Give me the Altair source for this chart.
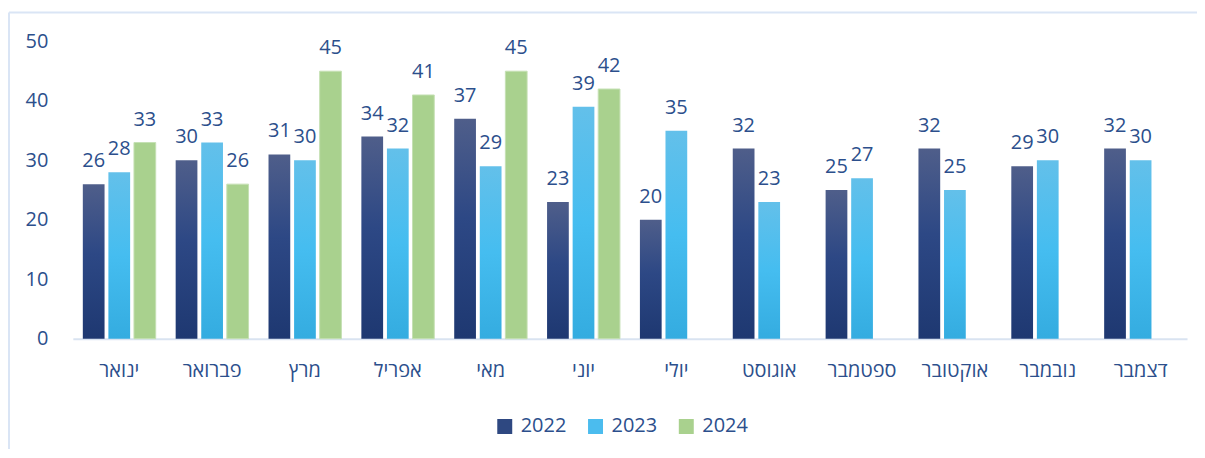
import altair as alt
import pandas as pd

months = ["ינואר", "פברואר", "מרץ", "אפריל", "מאי", "יוני", "יולי",
          "אוגוסט", "ספטמבר", "אוקטובר", "נובמבר", "דצמבר"]
years = ["2022", "2023", "2024"]
v2022 = [26, 30, 31, 34, 37, 23, 20, 32, 25, 32, 29, 32]
v2023 = [28, 33, 30, 32, 29, 39, 35, 23, 27, 25, 30, 30]
v2024 = [33, 26, 45, 41, 45, 42]

rows = []
for yr, vals in zip(years, [v2022, v2023, v2024]):
    for m, v in zip(months, vals):
        rows.append({"month": m, "year": yr, "value": v})
df = pd.DataFrame(rows)

FONT = "Open Sans, Liberation Sans, DejaVu Sans"
TXT = "#2c4f8c"
FRAME = "#dae5f5"

grad = {
    "2022": alt.Gradient(gradient="linear", x1=0, x2=0, y1=0, y2=1, stops=[
        alt.GradientStop(color="#4f5e8a", offset=0),
        alt.GradientStop(color="#2d4885", offset=0.45),
        alt.GradientStop(color="#1e3871", offset=1)]),
    "2023": alt.Gradient(gradient="linear", x1=0, x2=0, y1=0, y2=1, stops=[
        alt.GradientStop(color="#63c0ea", offset=0),
        alt.GradientStop(color="#45bdf0", offset=0.5),
        alt.GradientStop(color="#34ace0", offset=1)]),
}

x_enc = alt.X("month:N", sort=months,
              scale=alt.Scale(paddingInner=0.215, paddingOuter=0.1075),
              axis=alt.Axis(title=None, labelAngle=0, ticks=False, tickSize=0,
                            domainColor="#d9e3f1", domainWidth=2,
                            labelPadding=22, labelFontSize=20, labelColor=TXT,
                            labelFont=FONT))
xo_enc = alt.XOffset("year:N", scale=alt.Scale(domain=years, paddingInner=0.15, paddingOuter=0))
y_enc = alt.Y("value:Q", scale=alt.Scale(domain=[0, 50], nice=False),
              axis=alt.Axis(title=None, values=[0, 10, 20, 30, 40, 50], grid=False,
                            domain=False, ticks=False, tickSize=0, labelPadding=25,
                            labelFontSize=20, labelColor=TXT, labelFont=FONT))

base = alt.Chart(df)

bars = []
for yr in years:
    if yr == "2024":
        mk = base.mark_bar(color="#a9d18e", stroke="#c5e0b4", strokeWidth=1)
    else:
        mk = base.mark_bar(color=grad[yr])
    bars.append(mk.encode(x=x_enc, xOffset=xo_enc, y=y_enc)
                .transform_filter(alt.datum.year == yr))

labels = base.mark_text(font=FONT, fontSize=20, color=TXT, baseline="alphabetic",
                        dy=-17).encode(x=x_enc, xOffset=xo_enc, y=y_enc,
                                       text=alt.Text("value:Q"))

legend_layer = base.mark_square(opacity=0).encode(
    x=x_enc, xOffset=xo_enc, y=y_enc,
    color=alt.Color("year:N", scale=alt.Scale(domain=years,
                                              range=["#2e4881", "#4bbcee", "#a9d18e"]),
                    legend=alt.Legend(title=None, orient="none", direction="horizontal",
                                      legendX=423, legendY=376, symbolType="square",
                                      symbolSize=225, symbolOpacity=1,
                                      symbolStrokeWidth=0, labelFontSize=20,
                                      labelColor=TXT, labelFont=FONT,
                                      labelOffset=6, columnPadding=19)))

one = pd.DataFrame({"a": [0]})
frame_top = alt.Chart(one).mark_rule(color=FRAME, strokeWidth=2).encode(
    x=alt.value(-64), x2=alt.value(1160), y=alt.value(-29))
frame_left = alt.Chart(one).mark_rule(color=FRAME, strokeWidth=2).encode(
    x=alt.value(-64), y=alt.value(-29), y2=alt.value(440))

chart = alt.layer(frame_top, frame_left, *bars, labels, legend_layer).properties(
    width=1117, height=298,
    background="white",
    autosize=alt.AutoSizeParams(type="none"),
    padding={"left": 65, "top": 33, "right": 10, "bottom": 110},
).configure_view(stroke="white", strokeOpacity=0, strokeWidth=0)

chart.save("out.html", embed_options={"renderer": "svg", "actions": False})
